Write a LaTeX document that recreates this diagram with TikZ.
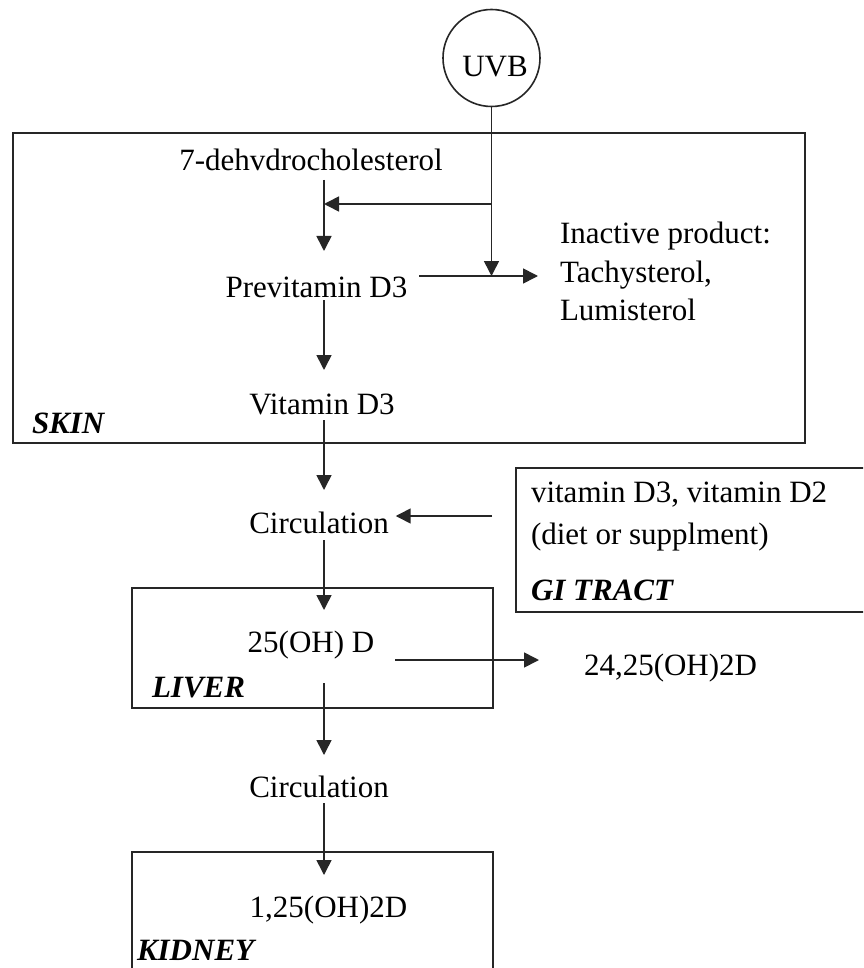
\documentclass[tikz,border=0pt]{standalone}
\usepackage{fontspec}
\setmainfont{Liberation Serif}
\usetikzlibrary{arrows.meta}
\begin{document}
\begin{tikzpicture}[x=1pt,y=-1pt,
  every node/.style={inner sep=0pt, outer sep=0pt, font=\fontsize{31}{38}\selectfont},
  ln/.style={line width=1.6pt, draw=black!85},
  arr/.style={ln, -{Triangle[length=15pt,width=15pt]}},
  box/.style={draw=black!85, line width=1.6pt, anchor=north west},
  txt/.style={anchor=base, text height=21pt, text depth=0pt},
  lbl/.style={anchor=base west, font=\fontsize{31}{38}\selectfont\bfseries\itshape},
]
\useasboundingbox (0,0) rectangle (863,968);
\clip (0,0) rectangle (863,968);
\fill[white] (0,0) rectangle (863,968);

% boxes
\node[box, minimum width=792pt, minimum height=310pt] (skin) at (13,133) {};
\node[box, minimum width=370pt, minimum height=144pt] (gi) at (516,468) {};
\node[box, minimum width=361pt, minimum height=120pt] (liver) at (132,588) {};
\node[box, minimum width=361pt, minimum height=140pt] (kidney) at (132,852) {};

% UVB
\node[circle, draw=black!85, line width=1.6pt, minimum size=97pt] (uvb) at (491.5,58) {};
\node (uvbt) at (495,67) {UVB};

% texts
\node[txt] (dehyd) at (311,171) {7-dehvdrocholesterol};
\node[txt] (prev) at (316.5,297) {Previtamin D3};
\node[txt] (vit) at (322,414) {Vitamin D3};
\node[txt] (circ1) at (319,533) {Circulation};
\node[txt] (oh25) at (311,652) {25(OH) D};
\node[txt, anchor=base west] (oh2425) at (584,675) {24,25(OH)2D};
\node[txt] (circ2) at (319,797) {Circulation};
\node[txt] (oh125) at (328.5,917) {1,25(OH)2D};

\node[anchor=north west, align=left, font=\fontsize{31}{38.5}\selectfont] (inact) at (560,222) {Inactive product:\\Tachysterol,\\Lumisterol};
\node[anchor=north west, align=left, font=\fontsize{31}{42}\selectfont] (gitext) at (531,482) {vitamin D3, vitamin D2\\(diet or supplment)};

% labels
\node[lbl] (skinl) at (32,433) {SKIN};
\node[lbl] (gil) at (531,600) {GI TRACT};
\node[lbl] (liverl) at (152,697) {LIVER};
\node[lbl] (kidneyl) at (137,960) {KIDNEY};

% helper coordinates
\coordinate (ax) at (324,0);
\coordinate (uvbtip) at (491.5,276);
\coordinate (br) at (491.5,204);
\coordinate (giy) at (0,516);
\coordinate (ohy) at (0,660);

% vertical chain
\draw[arr, shorten <=9pt, shorten >=25pt] (dehyd.south -| ax) -- (prev.north -| ax);
\draw[arr, shorten <=3pt, shorten >=23pt] (prev.south -| ax) -- (vit.north -| ax);
\draw[arr, shorten <=6pt, shorten >=22pt] (vit.south -| ax) -- (circ1.north -| ax);
\draw[arr, shorten <=7pt, shorten >=21pt] (circ1.south -| ax) -- (oh25.north -| ax);
\draw[arr, shorten <=31pt, shorten >=21pt] (oh25.south -| ax) -- (circ2.north -| ax);
\draw[arr, shorten <=6pt, shorten >=21pt] (circ2.south -| ax) -- (oh125.north -| ax);

% UVB
\draw[arr] (uvb.south) -- (uvbtip);
\draw[arr] (br) -- (br -| ax);

% side arrows
\draw[arr, shorten <=12pt, shorten >=22pt] (prev.east |- uvbtip) -- (inact.west |- uvbtip);
\draw[arr, shorten <=24pt, shorten >=7pt] (gi.west |- giy) -- (circ1.east |- giy);
\draw[arr, shorten <=21pt, shorten >=45pt] (oh25.east |- ohy) -- (oh2425.west |- ohy);
\end{tikzpicture}
\end{document}
